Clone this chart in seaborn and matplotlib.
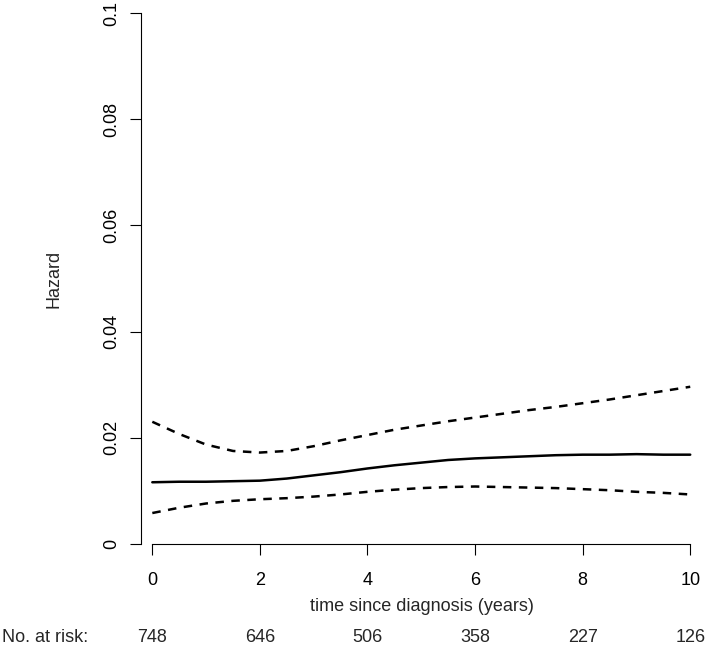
import matplotlib
matplotlib.use("Agg")
import matplotlib.pyplot as plt
import matplotlib.transforms as mtransforms
import pandas as pd
import seaborn as sns

# ---------------------------------
# DATA
# ---------------------------------
time_years = [0, 0.5, 1, 1.5, 2, 2.5, 3, 3.5, 4, 4.5, 5,
              5.5, 6, 6.5, 7, 7.5, 8, 8.5, 9, 9.5, 10]

hazard = [0.0116, 0.0117, 0.0117, 0.0118, 0.0119, 0.0123, 0.0129,
          0.0135, 0.0142, 0.0148, 0.0153, 0.0158, 0.0161, 0.0163,
          0.0165, 0.0167, 0.0168, 0.0168, 0.0169, 0.0168, 0.0168]

hazard_upper = [0.0230, 0.0207, 0.0187, 0.0175, 0.0172, 0.0175, 0.0184,
                0.0195, 0.0205, 0.0215, 0.0223, 0.0231, 0.0238, 0.0245,
                0.0252, 0.0258, 0.0265, 0.0272, 0.0280, 0.0288, 0.0296]

hazard_lower = [0.0058, 0.0068, 0.0076, 0.0081, 0.0084, 0.0086, 0.0089,
                0.0093, 0.0098, 0.0102, 0.0105, 0.0107, 0.0108, 0.0107,
                0.0106, 0.0105, 0.0103, 0.0101, 0.0098, 0.0096, 0.0093]

risk_times = [0, 2, 4, 6, 8, 10]
at_risk = [748, 646, 506, 358, 227, 126]

y_ticks = [0, 0.02, 0.04, 0.06, 0.08, 0.1]
y_tick_labels = ["0", "0.02", "0.04", "0.06", "0.08", "0.1"]

df = pd.DataFrame({
    "time": time_years,
    "hazard": hazard,
    "upper": hazard_upper,
    "lower": hazard_lower,
})

# ---------------------------------
# STYLE
# ---------------------------------
sns.set_style("ticks")
plt.rcParams["font.family"] = ["Liberation Sans", "DejaVu Sans"]
plt.rcParams["font.size"] = 13

fig = plt.figure(figsize=(7.09, 6.48), dpi=100)
ax = fig.add_axes([0.1989, 0.1608, 0.7898, 0.8187])

# ---------------------------------
# HAZARD CURVE + CONFIDENCE BANDS
# ---------------------------------
sns.lineplot(data=df, x="time", y="hazard", ax=ax, color="black",
             linewidth=1.8)
sns.lineplot(data=df, x="time", y="upper", ax=ax, color="black",
             linewidth=1.8, dashes=False)
sns.lineplot(data=df, x="time", y="lower", ax=ax, color="black",
             linewidth=1.8, dashes=False)
for line in ax.lines[1:]:
    line.set_dashes((3.4, 3.0))

ax.set_xlim(-0.21, 10.2)
ax.set_ylim(0, 0.1)

# R-like axes: only left / bottom, spanning the tick range
sns.despine(ax=ax)
ax.spines["left"].set_bounds(0, 0.1)
ax.spines["bottom"].set_bounds(0, 10)
for side in ["left", "bottom"]:
    ax.spines[side].set_linewidth(0.8)
    ax.spines[side].set_color("black")

ax.set_xticks(risk_times)
ax.set_yticks(y_ticks)
ax.set_yticklabels(y_tick_labels)
ax.tick_params(axis="both", length=8, width=0.8, color="black",
               labelsize=13, labelcolor="black")
ax.tick_params(axis="x", pad=12)
ax.tick_params(axis="y", pad=7)
plt.setp(ax.get_yticklabels(), rotation=90, va="center")

ax.set_xlabel("time since diagnosis (years)", fontsize=13)
ax.xaxis.set_label_coords(0.502, -0.119)
ax.xaxis.label.set_va("center")

ax.set_ylabel("Hazard", fontsize=13)
ax.yaxis.set_label_coords(-0.155, 0.5)
ax.yaxis.label.set_va("center")

# ---------------------------------
# NUMBER AT RISK
# ---------------------------------
trans = mtransforms.blended_transform_factory(ax.transData, ax.transAxes)
for t, n in zip(risk_times, at_risk):
    ax.text(t, -0.1757, str(n), transform=trans, ha="center",
            va="center", fontsize=13)
fig.text(0.003, 1 - 637 / 648, "No. at risk:", ha="left", va="center",
         fontsize=13)

fig.savefig("out.png", dpi=100)
plt.close(fig)
